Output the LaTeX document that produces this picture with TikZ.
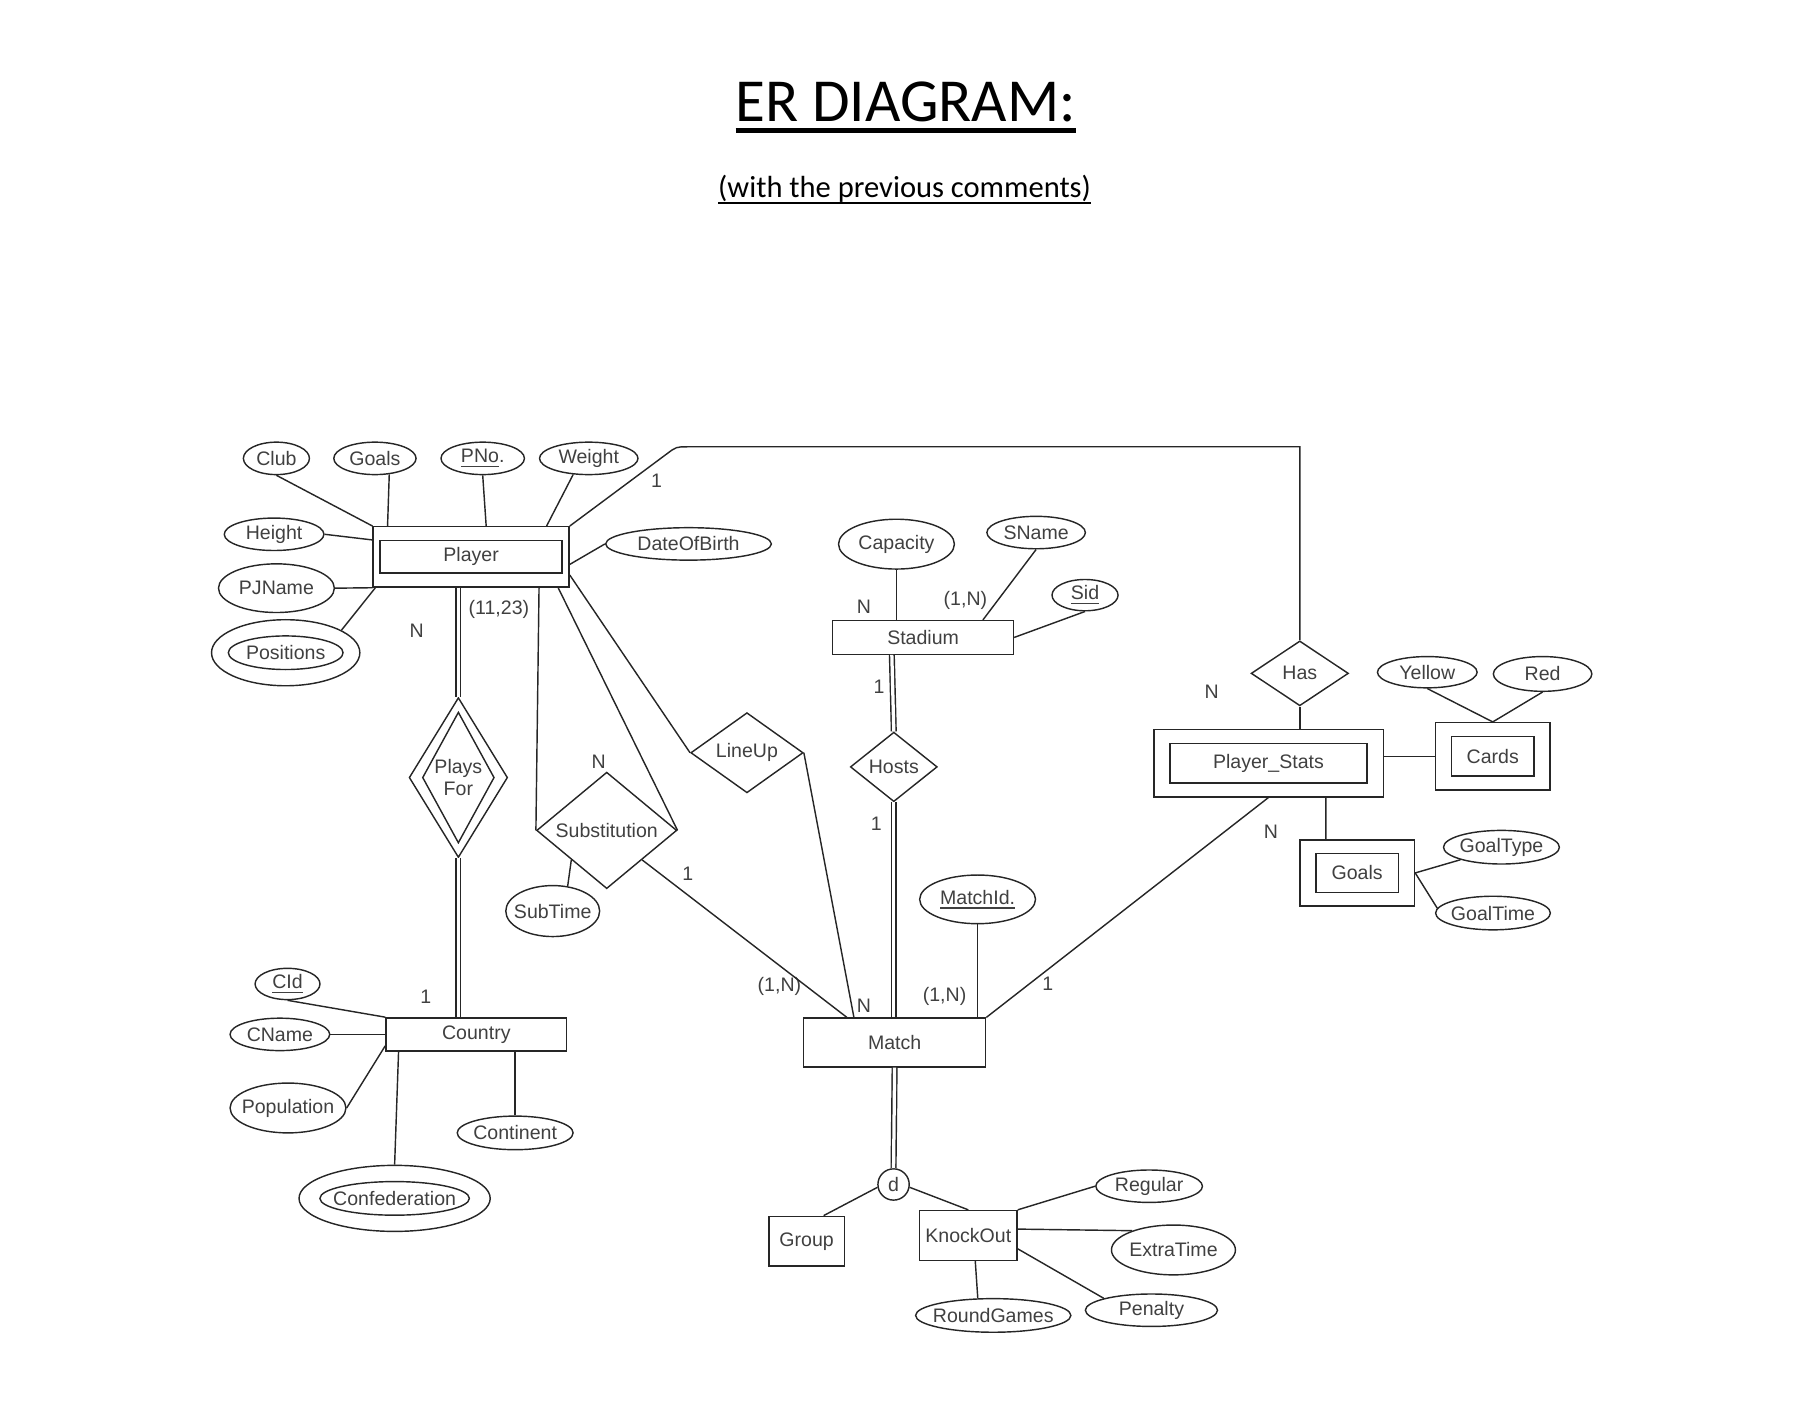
\documentclass[tikz,border=0pt]{standalone}
\usepackage{fontspec}
\setmainfont{Liberation Sans}
\newfontfamily\titlefont{Carlito}
\newcommand{\uln}[3]{\setbox0\hbox{#3}\leavevmode\rlap{\rule[-#1]{\wd0}{#2}}\box0}
\usepackage{tikz}
\usetikzlibrary{shapes}
\tikzstyle{entity}=[rectangle, draw=black!85, line width=0.7pt, inner sep=0pt, text=black!75]
\tikzstyle{attribute}=[ellipse, draw=black!85, line width=0.7pt, inner sep=0pt, inner xsep=-4pt, text=black!75]
\tikzstyle{relation}=[diamond, draw=black!85, line width=0.7pt, inner sep=0pt, text=black!75]
\tikzstyle{card}=[inner sep=0pt, text=black!75]
\tikzstyle{link}=[draw=black!85, line width=0.7pt]
\tikzstyle{total}=[link, double, double distance=1.6pt]
\tikzset{dims/.style 2 args={minimum width=#1mm, minimum height=#2mm}}

\begin{document}
\begin{tikzpicture}[x=0.02cm, y=-0.02cm, every node/.style={font=\fontsize{9.6}{11}\selectfont}]
\useasboundingbox (1.5,1.5) rectangle (1561.5,1231.5);

\node (Title) [anchor=base, font=\titlefont\fontsize{30}{36}\selectfont] at (783,106)
  {\uln{6pt}{2.4pt}{ER DIAGRAM:}};
\node (Subtitle) [anchor=base, font=\titlefont\fontsize{15}{18}\selectfont] at (782,172)
  {\uln{3pt}{0.7pt}{(with the previous comments)}};

\node (Player) [entity, dims={33.8}{10.4}] at (408,482) {Player};
\node (PlayerIn) [entity, dims={31.4}{5.6}] at (Player) {};
\node (Club) [attribute, dims={11.4}{5.6}] at (240,397) {Club};
\node (PGoals) [attribute, dims={14.2}{5.6}] at (325,397) {Goals};
\node (PNo) [attribute, dims={14.4}{5.6}] at (418,397) {\uln{2.2pt}{0.6pt}{PNo}.};
\node (Weight) [attribute, dims={17}{5.6}] at (509.5,397) {Weight};
\node (Height) [attribute, dims={17.2}{5.6}] at (238,462.5) {Height};
\node (PJName) [attribute, dims={20}{8.4}] at (240,509) {PJName};
\node (Positions) [attribute, dims={25.6}{11.4}] at (248,564.7) {Positions};
\node (PositionsIn) [attribute, dims={19.8}{5.8}] at (Positions) {};
\node (DateOfBirth) [attribute, dims={28.6}{5.6}] at (595.6,470.8) {DateOfBirth};

\node (PlaysFor) [relation, dims={17}{27.6}, align=center] at (397,672.4) {Plays\\For};
\node (PlaysForIn) [relation, dims={12.4}{22.6}] at (PlaysFor) {};
\node (Substitution) [relation, dims={24.2}{14.8}] at (525,718) {Substitution};
\node (LineUp) [relation, dims={19.4}{13}] at (646,651) {LineUp};
\node (SubTime) [attribute, dims={16.2}{8.8}] at (478.4,787.6) {SubTime};

\node (Country) [entity, dims={31.2}{5.7}] at (412.5,894) {Country};
\node (CId) [attribute, dims={11.2}{5.4}] at (249.6,850.5) {\uln{2.2pt}{0.6pt}{CId}};
\node (CName) [attribute, dims={17.2}{5.6}] at (243,894) {CName};
\node (Population) [attribute, dims={20}{8.6}] at (250,957.5) {Population};
\node (Continent) [attribute, dims={20}{5.8}] at (446,979) {Continent};
\node (Confederation) [attribute, dims={33}{11.4}] at (342,1035.5) {Confederation};
\node (ConfederationIn) [attribute, dims={25.8}{5.8}] at (Confederation) {};

\node (Stadium) [entity, dims={31.2}{5.8}] at (798,551.5) {Stadium};
\node (Capacity) [attribute, dims={20}{8.6}] at (775,471) {Capacity};
\node (SName) [attribute, dims={17}{5.6}] at (895.5,461) {SName};
\node (Sid) [attribute, dims={11.4}{5.4}] at (937.7,515) {\uln{2.2pt}{0.6pt}{Sid}};
\node (Hosts) [relation, dims={15}{12}] at (772.7,663.2) {Hosts};

\node (Match) [entity, dims={31.4}{8.4}] at (773.4,901) {Match};
\node (MatchId) [attribute, dims={20}{8.4}] at (845,777.5) {\uln{2.2pt}{0.6pt}{MatchId.}};
\node (d) [circle, draw=black!85, line width=0.7pt, inner sep=0pt, minimum size=5.4mm, text=black!75] at (772.5,1023.5) {d};
\node (Group) [entity, dims={13}{8.6}] at (697.5,1072.5) {Group};
\node (KnockOut) [entity, dims={16.8}{8.6}] at (837,1067.5) {KnockOut};
\node (Regular) [attribute, dims={18.4}{5.6}] at (993,1025) {Regular};
\node (ExtraTime) [attribute, dims={21.4}{8.6}] at (1014,1080) {ExtraTime};
\node (Penalty) [attribute, dims={22.8}{5.6}] at (995,1132) {Penalty};
\node (RoundGames) [attribute, dims={26.8}{5.8}] at (858.5,1136.5) {RoundGames};

\node (Has) [relation, dims={16.8}{11.2}] at (1123,582.5) {Has};
\node (PlayerStats) [entity, dims={39.6}{11.6}] at (1096,660) {Player\_Stats};
\node (PlayerStatsIn) [entity, dims={34}{6.8}] at (PlayerStats) {};
\node (Cards) [entity, dims={19.8}{11.6}] at (1289.5,654) {Cards};
\node (CardsIn) [entity, dims={14.2}{6.8}] at (Cards) {};
\node (Goals) [entity, dims={19.8}{11.4}] at (1172.5,754.7) {Goals};
\node (GoalsIn) [entity, dims={14.2}{6.8}] at (Goals) {};
\node (Yellow) [attribute, dims={17.2}{5.4}] at (1233,581.5) {Yellow};
\node (Red) [attribute, dims={17}{6}] at (1332.5,583) {Red};
\node (GoalType) [attribute, dims={20}{5.8}] at (1297,732.5) {GoalType};
\node (GoalTime) [attribute, dims={19.8}{5.8}] at (1289.7,789.3) {GoalTime};

\node (cPlayerHas) [card] at (568,416) {1};
\node (cPlayerPlays) [card] at (361,546) {N};
\node (cPlayerRange) [card] at (432,527) {(11,23)};
\node (cSubPlayer) [card] at (518,659) {N};
\node (cSubMatch) [card] at (595,755) {1};
\node (cMatchSub) [card] at (674,853) {(1,N)};
\node (cMatchLineUp) [card] at (747,869) {N};
\node (cMatchId) [card] at (816.5,861) {(1,N)};
\node (cMatchStats) [card] at (905.5,850) {1};
\node (cStadiumN) [card] at (747,525) {N};
\node (cStadiumRange) [card] at (834.5,520) {(1,N)};
\node (cStadiumHosts) [card] at (760,594) {1};
\node (cHostsMatch) [card] at (757.5,712.5) {1};
\node (cCountry) [card] at (368.8,861.5) {1};
\node (cHasStats) [card] at (1047,598) {N};
\node (cStatsMatch) [card] at (1098,719) {N};

\coordinate (bend) at (585,387);
\coordinate (corner) at (1123,387);

\draw[link] (Club.south) -- (Player.north west);
\draw[link] (PGoals.312) -- ([xshift=2.6mm]Player.north west);
\draw[link] (PNo.south) -- ([xshift=2.6mm]Player.north);
\draw[link] (Weight.226) -- ([xshift=-4mm]Player.north east);
\draw[link] (Height.east) -- ([yshift=-2.4mm]Player.north west);
\draw[link] (PJName.east) -- (Player.south west);
\draw[link] (Positions.22) -- ([xshift=0.5mm]Player.south west);
\draw[link] (DateOfBirth.west) -- ([yshift=-1.3mm]Player.east);
\draw[link] (Player.north east) -- ([shift={(-1.6mm,-1.2mm)}]bend) .. controls (bend) .. ([xshift=2mm]bend) -- (corner) -- (Has.north);

\draw[total] (PlaysFor.north |- Player.south) -- (PlaysFor.north);
\draw[total] (PlaysFor.south) -- (PlaysFor.south |- Country.north);
\draw[link] ([xshift=-5.3mm]Player.south east) -- (Substitution.west);
\draw[link] ([xshift=-2mm]Player.south east) -- (Substitution.east);
\draw[link] ([yshift=2.2mm]Player.south east) -- (LineUp.west);
\draw[link] (LineUp.east) -- ([xshift=8.8mm]Match.north west);
\draw[link] (Substitution.south west) -- (SubTime.59);
\draw[link] (Substitution.south east) -- ([xshift=7.6mm]Match.north west);

\draw[link] (CId.south) -- (Country.north west);
\draw[link] (CName.east) -- (Country.west);
\draw[link] (Population.east) -- ([yshift=1mm]Country.south west);
\draw[link] ([xshift=2.3mm]Country.south west) -- (Confederation.north);
\draw[link] (Continent.north) -- (Continent.north |- Country.south);

\draw[link] (Capacity.south) -- (Capacity.south |- Stadium.north);
\draw[link] (SName.south) -- ([xshift=-5.4mm]Stadium.north east);
\draw[link] (Sid.south) -- (Stadium.east);
\draw[total] ([xshift=-5.4mm]Stadium.south) -- (Hosts.north);
\draw[total] (Hosts.south) -- (Hosts.south |- Match.north);
\draw[link] (MatchId.south) -- (MatchId.south |- Match.north);
\draw[link] (Match.north east) -- (PlayerStats.south);

\draw[total] (Match.south) -- (d.north);
\draw[link] (d.190) -- ([xshift=-3.7mm]Group.north east);
\draw[link] (d.350) -- (KnockOut.north);
\draw[link] (KnockOut.north east) -- (Regular.west);
\draw[link] ([yshift=1.1mm]KnockOut.east) -- (ExtraTime.155);
\draw[link] ([yshift=-2.3mm]KnockOut.east) -- (Penalty.166);
\draw[link] ([xshift=1.2mm]KnockOut.south) -- (RoundGames.132);

\draw[link] (Has.south) -- (Has.south |- PlayerStats.north);
\draw[link] (PlayerStats.east |- Cards.west) -- (Cards.west);
\draw[link] ([xshift=9.9mm]PlayerStats.south) -- ([xshift=-5.4mm]Goals.north);
\draw[link] (Yellow.south) -- (Cards.north);
\draw[link] (Red.south) -- (Cards.north);
\draw[link] (Goals.east) -- (GoalType.197);
\draw[link] (Goals.east) -- (GoalTime.175);
\end{tikzpicture}
\end{document}
